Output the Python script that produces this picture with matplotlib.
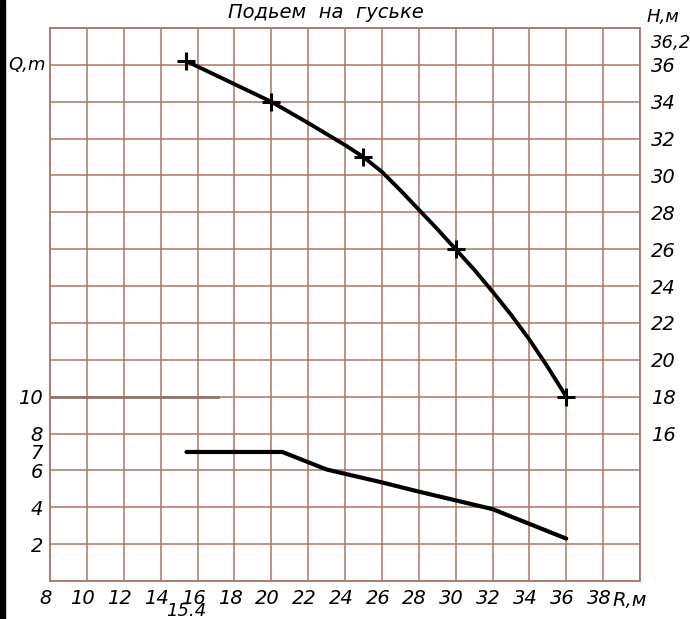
import matplotlib
matplotlib.use("Agg")
import matplotlib.pyplot as plt
import matplotlib.transforms as mtransforms
from matplotlib.patches import Rectangle

# load curve Q(R)
q_r = [15.4, 20.6, 23, 26, 28, 32, 36]
q_val = [7, 7, 6.05, 5.35, 4.85, 3.9, 2.3]

# hook height H(R)
h_r = [15.4, 20, 22, 24, 25, 26, 27, 28, 29, 30, 31, 32, 33, 34, 35, 36]
h_val = [36.2, 34, 32.85, 31.65, 31, 30.2, 29.2, 28.15, 27.1, 26, 24.9, 23.7, 22.45, 21.1, 19.6, 18]
mark_r = [15.4, 20, 25, 30, 36]
mark_h = [36.2, 34, 31, 26, 18]

# reference line at Q = 10
ref_r = [8, 17.1]
ref_q = [10, 10]

x_ticks = [8, 10, 12, 14, 16, 18, 20, 22, 24, 26, 28, 30, 32, 34, 36, 38]
q_ticks = [2, 4, 6, 7, 8, 10]
h_ticks = [16, 18, 20, 22, 24, 26, 28, 30, 32, 34, 36]

grid_c = '#ad7563'
font = dict(style='italic', family='DejaVu Sans')

fig = plt.figure(figsize=(6.9, 6.19), dpi=100)
ax = fig.add_axes([50 / 690, 1 - 581 / 619, 590 / 690, 553 / 619])
ax.set_xlim(8, 40)
ax.set_ylim(0, 30)

for x in range(8, 41, 2):
    ax.axvline(x, color=grid_c, lw=1.1, zorder=1)
for y in range(0, 31, 2):
    ax.axhline(y, color=grid_c, lw=1.1, zorder=1)
for s in ax.spines.values():
    s.set_color(grid_c)
    s.set_linewidth(1.3)

ax.plot(ref_r, ref_q, color='#8e7670', lw=2, zorder=2)
ax.plot(q_r, q_val, color='black', lw=3, zorder=3, solid_capstyle='round')

ax.set_xticks(x_ticks)
ax.set_xticklabels([str(v) for v in x_ticks], fontsize=14, **font)
ax.set_yticks(q_ticks)
ax.set_yticklabels([str(v) for v in q_ticks], fontsize=14, **font)
ax.tick_params(axis='y', length=0, pad=5)
ax.tick_params(axis='x', length=0, pad=6)
shift = mtransforms.ScaledTranslation(-4 / 100, 0, fig.dpi_scale_trans)
for lab in ax.get_xticklabels():
    lab.set_transform(lab.get_transform() + shift)

ax2 = ax.twinx()
ax2.set_ylim(8, 38)
ax2.plot(h_r, h_val, color='black', lw=2.8, zorder=3, solid_joinstyle='round')
ax2.plot(mark_r, mark_h, ls='none', marker='+', ms=13, mew=2.2, color='black', zorder=4)
ax2.set_yticks(h_ticks)
ax2.set_yticklabels([str(v) for v in h_ticks], fontsize=14, **font)
ax2.tick_params(length=0, pad=8)
for s in ax2.spines.values():
    s.set_visible(False)

fig.text(27 / 690, 1 - 65 / 619, 'Q,m', fontsize=13, ha='center', va='center', **font)
fig.text(663 / 690, 1 - 17 / 619, 'H,м', fontsize=13, ha='center', va='center', **font)
fig.text(651 / 690, 1 - 43 / 619, '36,2', fontsize=13, ha='left', va='center', **font)
fig.text(612 / 690, 1 - 600 / 619, 'R,м', fontsize=14, ha='left', va='center', **font)
fig.text(186 / 690, 1 - 611 / 619, '15.4', fontsize=13, ha='center', va='center', **font)
fig.text(326 / 690, 1 - 12 / 619, 'Подьем  на  гуське', fontsize=14, ha='center', va='center', **font)

fig.patches.append(Rectangle((0, 0), 5 / 690, 1, transform=fig.transFigure, color='black'))

fig.savefig('out.png', dpi=100)
